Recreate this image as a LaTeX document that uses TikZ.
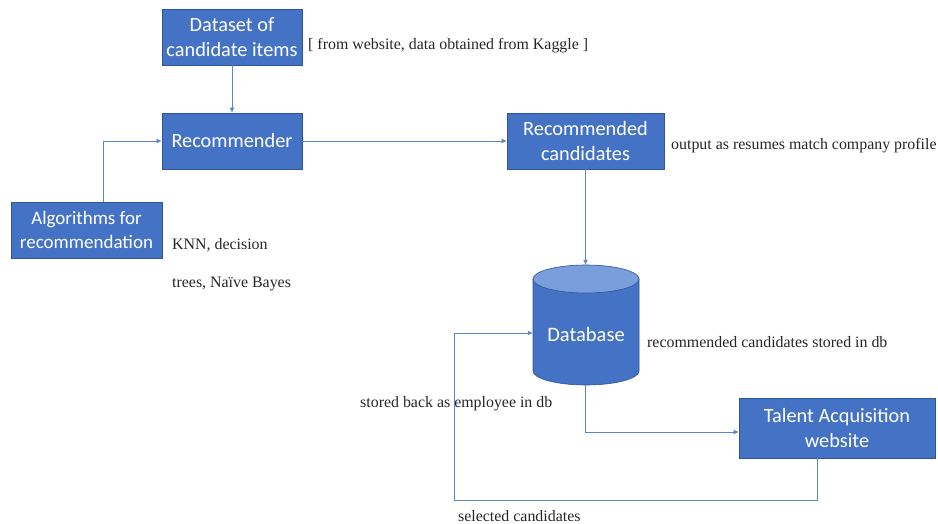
\documentclass[tikz,border=0pt]{standalone}
\usepackage{fontspec}
\setmainfont{Liberation Serif}
\newfontfamily\notefont{Liberation Serif}
\newfontfamily\boxfont{Carlito}
\usetikzlibrary{arrows.meta}
\definecolor{boxblue}{HTML}{4472C4}
\definecolor{boxedge}{HTML}{2F5597}
\definecolor{toplight}{HTML}{7A9EDB}
\definecolor{linecol}{HTML}{5B86C5}
\tikzset{
  bluebox/.style={draw=boxedge, fill=boxblue, text=white, font=\boxfont\fontsize{20.3}{25}\selectfont, align=center, inner sep=0pt, line width=0.6pt},
  conn/.style={draw=linecol, line width=0.9pt, -{Latex[length=5pt,width=5pt]}},
  note/.style={font=\notefont\fontsize{15.9}{18}\selectfont, anchor=west, inner sep=0pt, text=black!85}
}
\begin{document}
\begin{tikzpicture}[x=1pt,y=-1pt]
\useasboundingbox (0,0) rectangle (938,524);
\fill[white] (0,0) rectangle (938,524);
\node[bluebox, minimum width=140pt, minimum height=56pt] (ds) at (232,37) {Dataset of\\candidate items};
\node[bluebox, minimum width=140pt, minimum height=56pt] (rec) at (232,141) {Recommender};
\node[bluebox, minimum width=151pt, minimum height=56pt, font=\boxfont\fontsize{19}{24}\selectfont] (alg) at (86.5,230) {Algorithms for\\recommendation};
\node[bluebox, minimum width=157pt, minimum height=56pt] (rc) at (585.5,141) {Recommended\\candidates};
% database cylinder
\node[minimum width=106pt, minimum height=120pt, inner sep=0pt] (db) at (586,325) {};
\fill[boxblue, draw=boxedge, line width=0.6pt] (533,279) -- (533,371) arc[start angle=180, end angle=360, x radius=53, y radius=-14] -- (639,279) -- cycle;
\fill[toplight, draw=boxedge, line width=0.6pt] (586,279) ellipse[x radius=53, y radius=14];
\node[text=white, font=\boxfont\fontsize{20.5}{22}\selectfont] (dbt) at (586,334) {Database};
\node[bluebox, minimum width=196pt, minimum height=60pt] (ta) at (837,428) {Talent Acquisition\\website};

\node[note] (n1) at (308,46) {[ from website, data obtained from Kaggle ]};
\node[note] (n2) at (671,146) {output as resumes match company profile};
\node[note] (n3) at (172,245) {KNN, decision};
\node[note] (n4) at (172,284) {trees, Naïve Bayes};
\node[note] (n5) at (647,342) {recommended candidates stored in db};
\node[note] (n6) at (360,404) {stored back as employee in db};
\node[note] (n7) at (458,516) {selected candidates};

\coordinate (c1) at (103,141);
\coordinate (c2) at (585,432);
\coordinate (c3) at (817,500);
\coordinate (c4) at (454,500);
\coordinate (c5) at (454,333);

\draw[conn] (ds) -- (rec);
\draw[conn] (alg.north -| c1) -- (c1) -- (rec.west);
\draw[conn] (rec) -- (rc);
\draw[conn] (rc.south) -- (db.north -| rc.south);
\draw[conn] (db.south -| c2) -- (c2) -- (ta.west |- c2);
\draw[conn] (ta.south -| c3) -- (c3) -- (c4) -- (c5) -- (db.west |- c5);
\end{tikzpicture}
\end{document}
